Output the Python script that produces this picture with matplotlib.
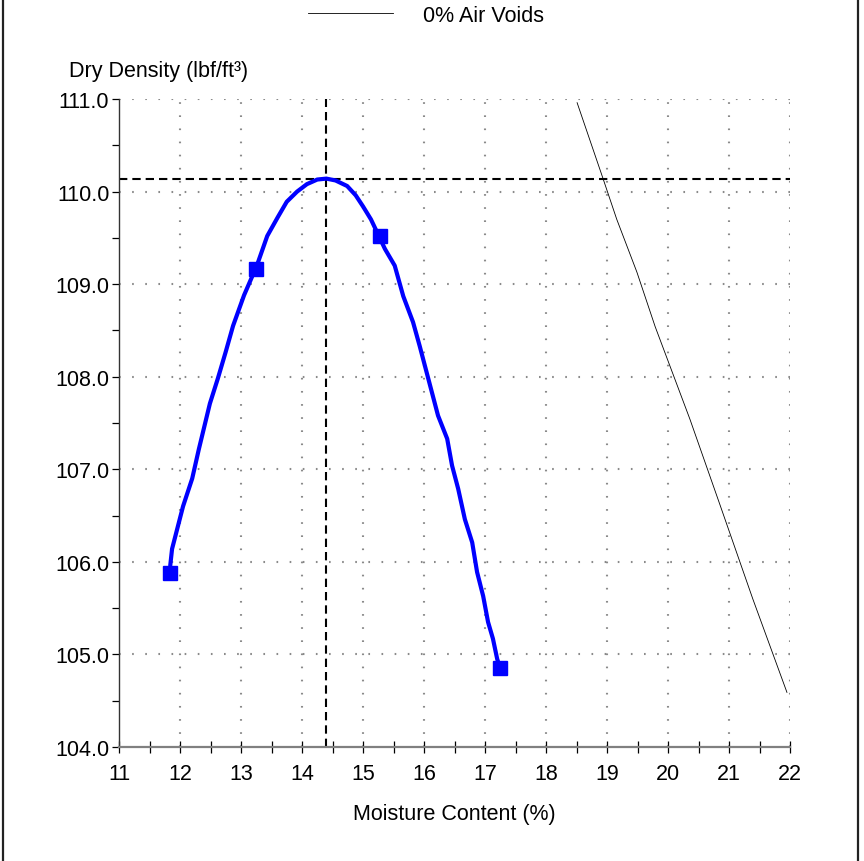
"""
Compaction curve: dry density vs moisture content with zero-air-voids line.
"""

import matplotlib
matplotlib.use("Agg")
import matplotlib.pyplot as plt
import matplotlib.ticker as mticker
from matplotlib.lines import Line2D

plt.rcParams["font.family"] = ["Liberation Sans", "DejaVu Sans"]

# ---------------------------------------------------------------------------
# Data
# ---------------------------------------------------------------------------

# measured test points
TEST_MC = [11.84, 13.25, 15.28, 17.25]
TEST_DD = [105.88, 109.16, 109.52, 104.85]

# fitted compaction curve
CURVE_MC = [11.84, 11.87, 12.05, 12.20, 12.31, 12.49, 12.62, 12.75, 12.87,
            13.05, 13.26, 13.43, 13.60, 13.75, 13.92, 14.08, 14.25, 14.40,
            14.55, 14.74, 14.88, 15.00, 15.13, 15.26, 15.36, 15.52, 15.66,
            15.82, 15.93, 16.07, 16.23, 16.38, 16.46, 16.56, 16.67, 16.79,
            16.87, 16.97, 17.05, 17.13, 17.20, 17.25]
CURVE_DD = [105.96, 106.14, 106.60, 106.90, 107.22, 107.71, 107.98, 108.27, 108.55,
            108.88, 109.20, 109.52, 109.72, 109.89, 110.00, 110.08, 110.13, 110.14,
            110.12, 110.06, 109.96, 109.84, 109.70, 109.52, 109.38, 109.20, 108.87,
            108.59, 108.33, 107.98, 107.58, 107.33, 107.04, 106.79, 106.46, 106.21,
            105.89, 105.63, 105.35, 105.17, 104.95, 104.85]

# zero air voids line
ZAV_MC = [18.51, 18.93, 19.16, 19.49, 19.79, 20.36, 20.85, 21.39, 21.95]
ZAV_DD = [110.96, 110.15, 109.70, 109.13, 108.54, 107.54, 106.62, 105.60, 104.59]

OPT_MC = 14.40      # optimum moisture content
MAX_DD = 110.14     # maximum dry density

X_LIM = (11, 22)
Y_LIM = (104.0, 111.0)

FS = 15.5

# ---------------------------------------------------------------------------
# Plot
# ---------------------------------------------------------------------------

fig = plt.figure(figsize=(8.64, 8.62), dpi=100)
ax = fig.add_axes([119 / 864, 1 - 748 / 862, (790 - 119) / 864, (748 - 100) / 862])

ax.set_xlim(*X_LIM)
ax.set_ylim(*Y_LIM)

# dotted grid
grid_kw = dict(color="#8a8a8a", lw=1.5, dashes=(0.8, 5.5), zorder=1)
for gx in range(X_LIM[0] + 1, X_LIM[1] + 1):
    ax.plot([gx, gx], Y_LIM, **grid_kw)
for gy in range(int(Y_LIM[0]) + 1, int(Y_LIM[1]) + 1):
    ax.plot(X_LIM, [gy, gy], **grid_kw)

# optimum lines
ax.plot([OPT_MC, OPT_MC], Y_LIM, color="black", lw=1.5, dashes=(4, 2.4), zorder=2)
ax.plot(X_LIM, [MAX_DD, MAX_DD], color="black", lw=1.5, dashes=(4, 2.4), zorder=2)

zav, = ax.plot(ZAV_MC, ZAV_DD, color="black", lw=0.6, zorder=3)
ax.plot(CURVE_MC, CURVE_DD, color="#0000ff", lw=3.0, zorder=4,
        solid_capstyle="round", solid_joinstyle="round")
ax.plot(TEST_MC, TEST_DD, linestyle="none", marker="s", markersize=10.5,
        color="#0000ff", zorder=5)

# axes styling
ax.spines["top"].set_visible(False)
ax.spines["right"].set_visible(False)
ax.spines["left"].set_color("#333333")
ax.spines["left"].set_linewidth(1.0)
ax.spines["bottom"].set_color("#808080")
ax.spines["bottom"].set_linewidth(1.6)

ax.xaxis.set_major_locator(mticker.MultipleLocator(1))
ax.xaxis.set_minor_locator(mticker.MultipleLocator(0.5))
ax.yaxis.set_major_locator(mticker.MultipleLocator(1))
ax.yaxis.set_minor_locator(mticker.MultipleLocator(0.5))
ax.yaxis.set_major_formatter(mticker.FormatStrFormatter("%.1f"))

ax.tick_params(axis="x", which="both", direction="inout", length=9, width=0.9,
               color="black", labelsize=FS, pad=7)
ax.tick_params(axis="y", which="both", direction="out", length=5, width=0.9,
               color="black", labelsize=FS, pad=2)

ax.set_xlabel("Moisture Content (%)", fontsize=FS, labelpad=14)
fig.text(69 / 864, 1 - 72 / 862, "Dry Density (lbf/ft³)", fontsize=FS,
         ha="left", va="center")

fig.legend([zav], ["0% Air Voids"], loc="center", bbox_to_anchor=(0.493, 1 - 16 / 862),
           frameon=False, fontsize=FS, handlelength=3.95, handletextpad=1.4)

# outer frame
for fx in (3 / 864, 858 / 864):
    fig.add_artist(Line2D([fx, fx], [0, 1], transform=fig.transFigure,
                          color="#222222", lw=1.6))

fig.savefig("out.png", dpi=100)
